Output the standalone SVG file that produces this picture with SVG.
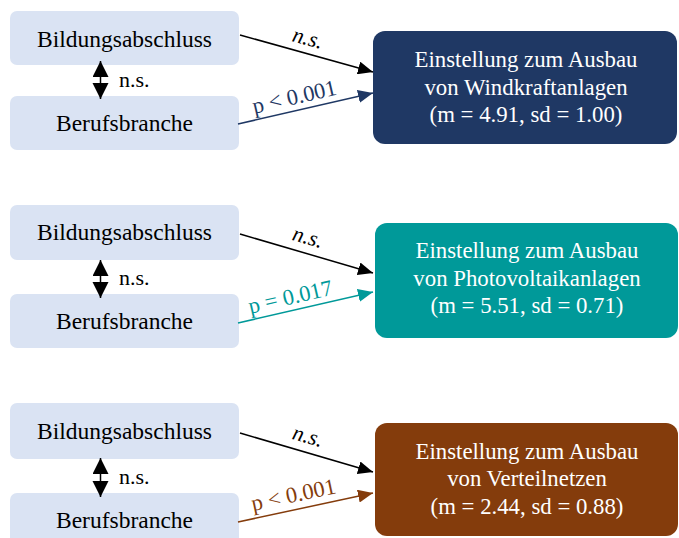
<svg xmlns="http://www.w3.org/2000/svg" width="679" height="538" viewBox="0 0 679 538">
<defs>
<style>
text{font-family:"Liberation Serif","Times New Roman",serif;font-size:22px}
.lb{fill:#dae3f3}
.lt{fill:#000;text-anchor:middle;font-size:23.5px}
.rt{fill:#fff;text-anchor:middle;font-size:22.8px}
.ns{fill:#000}
.it{font-style:italic;text-anchor:middle}
.c{fill:none;stroke-width:1.5}
.pl{font-size:22.5px;text-anchor:middle}
</style>
<marker id="mk" markerUnits="userSpaceOnUse" markerWidth="16" markerHeight="13" refX="15" refY="6.5" orient="auto"><path d="M0,0 L15,6.5 L0,13 z" fill="#000"/></marker>
<marker id="mn" markerUnits="userSpaceOnUse" markerWidth="16" markerHeight="13" refX="15" refY="6.5" orient="auto"><path d="M0,0 L15,6.5 L0,13 z" fill="#1f3864"/></marker>
<marker id="mt" markerUnits="userSpaceOnUse" markerWidth="16" markerHeight="13" refX="15" refY="6.5" orient="auto"><path d="M0,0 L15,6.5 L0,13 z" fill="#009999"/></marker>
<marker id="mb" markerUnits="userSpaceOnUse" markerWidth="16" markerHeight="13" refX="15" refY="6.5" orient="auto"><path d="M0,0 L15,6.5 L0,13 z" fill="#843c0c"/></marker>
<marker id="md" markerUnits="userSpaceOnUse" markerWidth="17" markerHeight="17" refX="16" refY="8" orient="auto-start-reverse"><path d="M0,0 L16,8 L0,16 z" fill="#000"/></marker>
</defs>
<rect width="679" height="538" fill="#fff"/>

<!-- Panel 1 -->
<g id="p1-bildung"><rect class="lb" x="10" y="11" width="229" height="54" rx="7"/><text class="lt" x="124.5" y="47">Bildungsabschluss</text></g>
<g id="p1-beruf"><rect class="lb" x="10" y="96" width="229" height="54" rx="7"/><text class="lt" x="124.5" y="131">Berufsbranche</text></g>
<g id="p1-wind"><rect x="373" y="31" width="304" height="113" rx="12" fill="#1f3864"/><text class="rt" x="526" y="67">Einstellung zum Ausbau</text><text class="rt" x="526" y="95">von Windkraftanlagen</text><text class="rt" x="526" y="122">(m = 4.91, sd = 1.00)</text></g>

<!-- Panel 2 -->
<g id="p2-bildung"><rect class="lb" x="10" y="205" width="229" height="55" rx="7"/><text class="lt" x="124.5" y="240">Bildungsabschluss</text></g>
<g id="p2-beruf"><rect class="lb" x="10" y="294" width="229" height="54" rx="7"/><text class="lt" x="124.5" y="329">Berufsbranche</text></g>
<g id="p2-pv"><rect x="375" y="223" width="303" height="115" rx="12" fill="#009999"/><text class="rt" x="527" y="258">Einstellung zum Ausbau</text><text class="rt" x="527" y="286">von Photovoltaikanlagen</text><text class="rt" x="527" y="313">(m = 5.51, sd = 0.71)</text></g>

<!-- Panel 3 -->
<g id="p3-bildung"><rect class="lb" x="10" y="403" width="229" height="56" rx="7"/><text class="lt" x="124.5" y="439">Bildungsabschluss</text></g>
<g id="p3-beruf"><rect class="lb" x="10" y="493" width="229" height="54" rx="7"/><text class="lt" x="124.5" y="528">Berufsbranche</text></g>
<g id="p3-netz"><rect x="375" y="423" width="303" height="113" rx="12" fill="#843c0c"/><text class="rt" x="527" y="459">Einstellung zum Ausbau</text><text class="rt" x="527" y="486">von Verteilnetzen</text><text class="rt" x="527" y="514">(m = 2.44, sd = 0.88)</text></g>

<g id="connectors">
<!-- panel 1 -->
<line class="c" x1="100.5" y1="61" x2="100.5" y2="99" stroke="#000" marker-start="url(#md)" marker-end="url(#md)"/>
<line class="c" x1="240" y1="35" x2="373" y2="72" stroke="#000" marker-end="url(#mk)"/>
<line class="c" x1="238" y1="124" x2="373" y2="93" stroke="#1f3864" marker-end="url(#mn)"/>
<!-- panel 2 -->
<line class="c" x1="100.5" y1="260" x2="100.5" y2="298" stroke="#000" marker-start="url(#md)" marker-end="url(#md)"/>
<line class="c" x1="240" y1="234" x2="373" y2="273" stroke="#000" marker-end="url(#mk)"/>
<line class="c" x1="238" y1="323" x2="373" y2="292" stroke="#009999" marker-end="url(#mt)"/>
<!-- panel 3 -->
<line class="c" x1="100.5" y1="458" x2="100.5" y2="497" stroke="#000" marker-start="url(#md)" marker-end="url(#md)"/>
<line class="c" x1="240" y1="433" x2="373" y2="472" stroke="#000" marker-end="url(#mk)"/>
<line class="c" x1="238" y1="522" x2="373" y2="493" stroke="#843c0c" marker-end="url(#mb)"/>
</g>

<g id="labels">
<text class="ns" x="119" y="87">n.s.</text>
<text class="ns" x="119" y="285">n.s.</text>
<text class="ns" x="119" y="484">n.s.</text>
<text class="it" x="306" y="45" transform="rotate(15.5 306 45)">n.s.</text>
<text class="it" x="306" y="244" transform="rotate(16 306 244)">n.s.</text>
<text class="it" x="306" y="443" transform="rotate(16 306 443)">n.s.</text>
<text class="pl" x="296" y="104" fill="#1f3864" transform="rotate(-13 296 104)">p &lt; 0.001</text>
<text class="pl" x="292" y="304" fill="#009999" transform="rotate(-13 292 304)">p = 0.017</text>
<text class="pl" x="295" y="502" fill="#843c0c" transform="rotate(-12 295 502)">p &lt; 0.001</text>
</g>
</svg>
